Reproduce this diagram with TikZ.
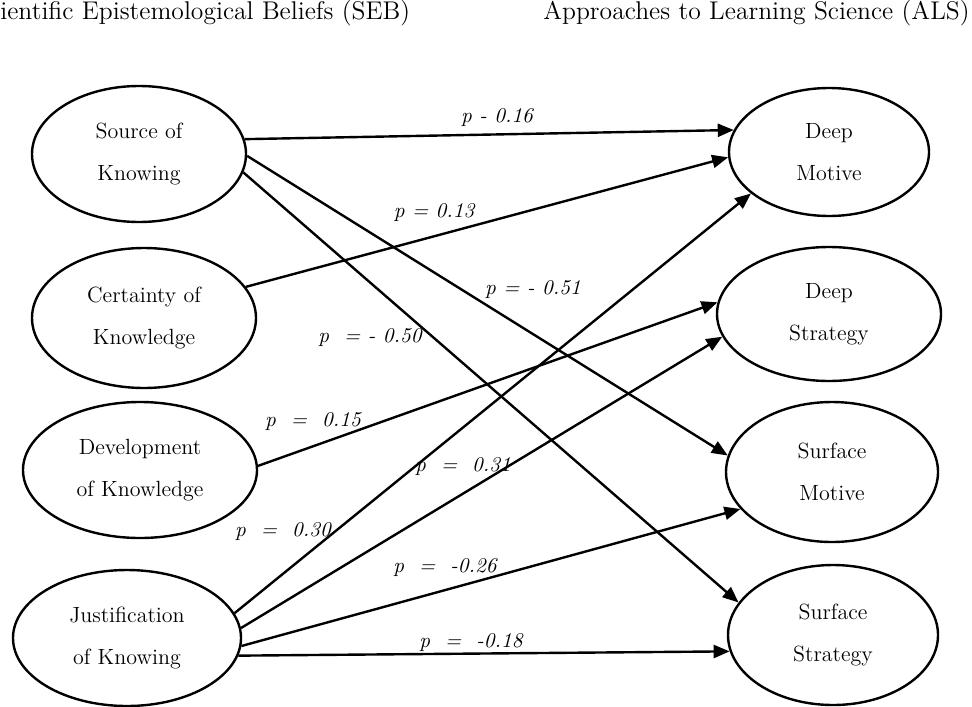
\documentclass[tikz,border=0pt]{standalone}
\usetikzlibrary{arrows.meta,shapes.geometric}
\tikzset{
  patharr/.style={-{Triangle[length=8pt,width=6.5pt]}, line width=1.2pt},
  construct/.style={ellipse, draw, line width=1.2pt, inner sep=0pt, align=center,
    font=\fontsize{11}{21}\selectfont},
  coef/.style={font=\fontsize{10.5}{12}\selectfont\itshape, inner sep=1pt},
  head/.style={font=\fontsize{12.8}{14}\selectfont, inner sep=0pt},
}
\begin{document}
\begin{tikzpicture}[x=0.5pt,y=-0.5pt]
\useasboundingbox (0,0) rectangle (972,706);
% ---- headings --------------------------------------------------------------
\node[head, anchor=west] (seb) at (0,13)   {ientific Epistemological Beliefs (SEB)};
\node[head, anchor=east] (als) at (970,13) {Approaches to Learning Science (ALS)};
% ---- SEB dimensions --------------------------------------------------------
\node[construct, minimum width=107pt, minimum height=68pt] (sk) at (139,154) {Source of\\Knowing};
\node[construct, minimum width=112pt, minimum height=70pt] (ck) at (144,318) {Certainty of\\Knowledge};
\node[construct, minimum width=117pt, minimum height=68pt] (dk) at (140,470) {Development\\of Knowledge};
\node[construct, minimum width=114pt, minimum height=68pt] (jk) at (127,638) {Justification\\of Knowing};
% ---- ALS dimensions --------------------------------------------------------
\node[construct, minimum width=100pt, minimum height=64pt] (dm)  at (829,152) {Deep\\Motive};
\node[construct, minimum width=112pt, minimum height=67pt] (ds)  at (829,314) {Deep\\Strategy};
\node[construct, minimum width=106pt, minimum height=70pt] (sm)  at (832,472) {Surface\\Motive};
\node[construct, minimum width=105pt, minimum height=70pt] (sst) at (833,635) {Surface\\Strategy};
% ---- paths -----------------------------------------------------------------
\draw[patharr] (sk.8)   -- (dm.167);
\draw[patharr] (sk.-1)  -- (sm.171);
\draw[patharr] (sk.-10) -- (sst.161);
\draw[patharr] (ck.17)  -- (dm.183);
\draw[patharr] (dk.2)   -- (ds.174);
\draw[patharr] (jk.13)  -- (dm.208);
\draw[patharr] (jk.5)   -- (ds.192);
\draw[patharr] (jk.-4)  -- (sm.202);
\draw[patharr] (jk.-9)  -- (sst.189);
% ---- coefficients ----------------------------------------------------------
\node[coef] (p1) at (497,118) {p - 0.16};
\node[coef] (p2) at (434,213) {p = 0.13};
\node[coef] (p3) at (533,290) {p = - 0.51};
\node[coef] (p4) at (370,338) {p \ = - 0.50};
\node[coef] (p5) at (313,422) {p \ = \ 0.15};
\node[coef] (p6) at (463,467) {p \ = \ 0.31};
\node[coef] (p7) at (283,532) {p \ = \ 0.30};
\node[coef] (p8) at (445,568) {p \ = \ -0.26};
\node[coef] (p9) at (471,643) {p \ = \ -0.18};
\end{tikzpicture}
\end{document}
